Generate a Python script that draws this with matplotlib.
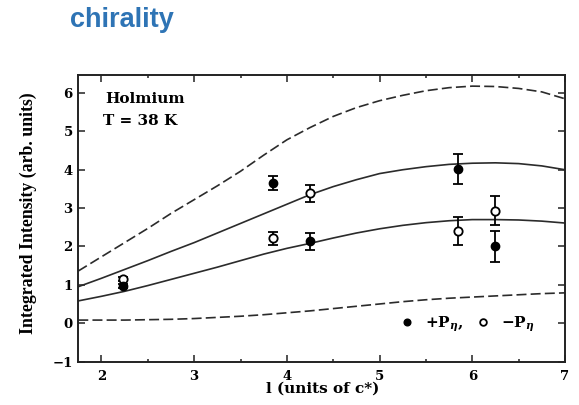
import matplotlib.pyplot as plt

# l values (units of c*) where the model curves are tabulated
l_curve = [1.75, 2.0, 2.25, 2.5, 2.75, 3.0, 3.25, 3.5, 3.75, 4.0, 4.25,
           4.5, 4.75, 5.0, 5.25, 5.5, 5.75, 6.0, 6.25, 6.5, 6.75, 7.0]
upper_dashed = [1.36, 1.73, 2.10, 2.47, 2.86, 3.22, 3.58, 3.96, 4.38, 4.78, 5.10,
                5.39, 5.62, 5.80, 5.94, 6.06, 6.14, 6.18, 6.17, 6.12, 6.03, 5.85]
upper_solid = [0.95, 1.17, 1.40, 1.63, 1.87, 2.10, 2.35, 2.60, 2.85, 3.10, 3.35,
               3.56, 3.74, 3.90, 4.00, 4.08, 4.14, 4.17, 4.18, 4.16, 4.10, 4.00]
lower_solid = [0.58, 0.70, 0.83, 0.98, 1.14, 1.30, 1.46, 1.63, 1.80, 1.95, 2.08,
               2.22, 2.35, 2.46, 2.55, 2.62, 2.67, 2.70, 2.70, 2.69, 2.66, 2.61]
lower_dashed = [0.08, 0.08, 0.08, 0.09, 0.10, 0.12, 0.15, 0.18, 0.22, 0.27, 0.32,
                0.38, 0.44, 0.50, 0.56, 0.61, 0.65, 0.68, 0.71, 0.74, 0.77, 0.79]

# measured intensities for the two polarisation states
l_obs = [2.23, 3.85, 4.25, 5.85, 6.25]
plus_I = [0.97, 3.65, 2.13, 4.02, 2.00]
plus_err = [0.05, 0.18, 0.22, 0.38, 0.40]
minus_I = [1.15, 2.21, 3.39, 2.41, 2.93]
minus_err = [0.05, 0.17, 0.22, 0.37, 0.38]

xticks = [2, 3, 4, 5, 6, 7]
yticks = [-1, 0, 1, 2, 3, 4, 5, 6]

plt.rcParams['font.family'] = 'DejaVu Serif'
plt.rcParams['font.weight'] = 'bold'
plt.rcParams['mathtext.fontset'] = 'dejavuserif'

fig = plt.figure(figsize=(5.79, 4.05), dpi=100)
ax = fig.add_axes([0.1352, 0.1074, 0.8406, 0.7074])

lc = '#2b2b2b'
lw = 1.2
ax.plot(l_curve, upper_dashed, color=lc, lw=lw, dashes=(6, 2.5))
ax.plot(l_curve, upper_solid, color=lc, lw=lw)
ax.plot(l_curve, lower_solid, color=lc, lw=lw)
ax.plot(l_curve, lower_dashed, color=lc, lw=lw, dashes=(6, 2.5))

ax.errorbar(l_obs, minus_I, yerr=minus_err, fmt='none', ecolor='black',
            elinewidth=1.3, capsize=3.5, capthick=1.3, zorder=3)
ax.errorbar(l_obs, plus_I, yerr=plus_err, fmt='none', ecolor='black',
            elinewidth=1.3, capsize=3.5, capthick=1.3, zorder=3)
h_minus, = ax.plot(l_obs, minus_I, 'o', ms=6, mfc='white', mec='black',
                   mew=1.3, zorder=4)
h_plus, = ax.plot(l_obs, plus_I, 'o', ms=6, mfc='black', mec='black', zorder=5)

ax.set_xlim(1.75, 7.0)
ax.set_ylim(-1, 6.47)
ax.set_xticks(xticks)
ax.set_yticks(yticks)
ax.set_xticks([x + 0.5 for x in xticks[:-1]], minor=True)
ax.tick_params(which='both', direction='in', top=True, right=True,
               labelsize=9.5, width=1.1, color='#222222')
ax.tick_params(which='major', length=5)
ax.tick_params(which='minor', length=2.5)
ax.tick_params(axis='x', pad=6)
ax.tick_params(axis='y', pad=4)
for s in ax.spines.values():
    s.set_linewidth(1.4)
    s.set_color('#222222')

ax.text(0.055, 0.915, 'Holmium', transform=ax.transAxes, fontsize=11,
        fontweight='bold', va='center')
ax.text(0.051, 0.84, 'T = 38 K', transform=ax.transAxes, fontsize=11,
        fontweight='bold', va='center')

ax.legend([h_plus, h_minus], [r'+P$_{\eta}$,', r'$-$P$_{\eta}$'], ncol=2,
          frameon=False, loc='center left', bbox_to_anchor=(0.659, 0.131),
          borderaxespad=0, borderpad=0, handlelength=1.0, handletextpad=0.7,
          columnspacing=0.75, prop={'size': 11, 'weight': 'bold'},
          markerscale=0.8)

fig.text(28 / 579, 1 - 213 / 405, 'Integrated Intensity (arb. units)',
         rotation=90, ha='center', va='center', fontsize=12.8,
         family='Liberation Serif', fontweight='bold')
fig.text(323 / 579, 1 - 389 / 405, 'l (units of c*)', ha='center', va='center',
         fontsize=11, fontweight='bold')

fig.text(70 / 579, 1 - 27 / 405, 'chirality', color='#2e74b5', fontsize=19.5,
         family='Liberation Sans', fontweight='bold', va='baseline')

fig.savefig('out.png', dpi=100)
